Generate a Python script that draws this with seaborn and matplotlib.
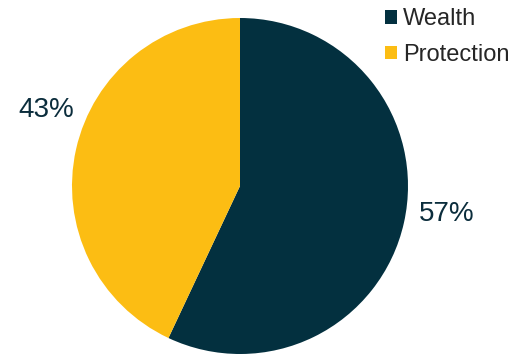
import matplotlib
matplotlib.use("Agg")
import matplotlib.pyplot as plt
import seaborn as sns
from matplotlib.patches import Patch

categories = ["Wealth", "Protection"]
shares = [57, 43]
colors = ["#03303f", "#fcbd13"]
text_color = "#0b2d3c"

sns.set_theme(style="white")
plt.rcParams["font.family"] = ["Liberation Sans", "DejaVu Sans"]

W, H, R = 512, 354, 168
cx, cy = 240, 186
fig = plt.figure(figsize=(W / 100, H / 100), dpi=100)
ax = fig.add_axes([(cx - R) / W, (H - cy - R) / H, 2 * R / W, 2 * R / H])

wedges, texts, autotexts = ax.pie(
    shares,
    colors=colors,
    startangle=90,
    counterclock=False,
    autopct=lambda p: f"{p:.0f}%",
    pctdistance=1.25,
    wedgeprops=dict(linewidth=0),
    textprops=dict(color=text_color, fontsize=20),
)
# nudge the percentage labels to their callout spots beside the pie
label_pos = [(1.23, -0.165), (-1.152, 0.45)]
for t, pos in zip(autotexts, label_pos):
    t.set_position(pos)
    t.set_ha("center")
    t.set_va("center")
ax.set_xlim(-1, 1)
ax.set_ylim(-1, 1)
ax.set_aspect("equal")
ax.axis("off")

handles = [Patch(facecolor=c, edgecolor="none") for c in colors]
fig.legend(
    handles,
    categories,
    loc="upper left",
    bbox_to_anchor=(382.6 / W, 1 - 6 / H),
    frameon=False,
    fontsize=17,
    handlelength=0.51,
    handleheight=0.51,
    handletextpad=0.27,
    labelspacing=0.58,
    borderaxespad=0,
    borderpad=0.1,
)
fig.savefig("out.png", dpi=100)
